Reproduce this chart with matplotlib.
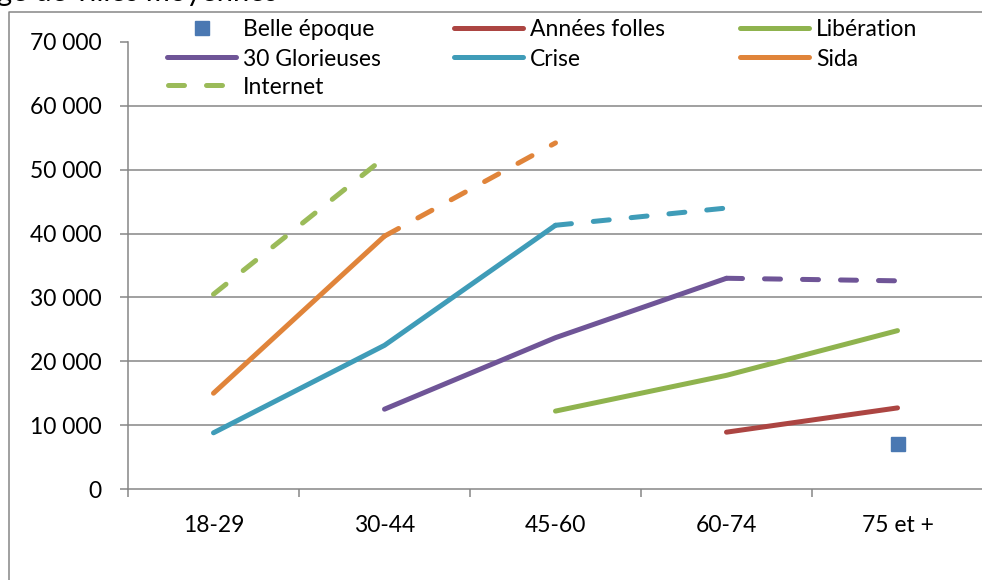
import numpy as np
import matplotlib
matplotlib.use("Agg")
import matplotlib.pyplot as plt
from matplotlib.lines import Line2D

plt.rcParams['font.family'] = ['Lato', 'DejaVu Sans']

# ---- data ----
categories = ['18-29', '30-44', '45-60', '60-74', '75 et +']
belle_epoque = [np.nan, np.nan, np.nan, np.nan, 7000]
annees_folles = [np.nan, np.nan, np.nan, 8900, 12700]
liberation = [np.nan, np.nan, 12200, 17800, 24800]
glorieuses = [np.nan, 12500, 23700, 33000, 32600]
crise = [8800, 22500, 41300, 44000, np.nan]
sida = [15000, 39600, 54200, np.nan, np.nan]
internet = [30500, 51900, np.nan, np.nan, np.nan]
y_ticks = [0, 10000, 20000, 30000, 40000, 50000, 60000, 70000]
y_tick_labels = ['0', '10 000', '20 000', '30 000', '40 000', '50 000', '60 000', '70 000']
title_text = 'ge de villes moyennes'

# index from which the series is drawn dashed (projection)
series = [
    ('Belle époque', belle_epoque, '#4A78B2', None),
    ('Années folles', annees_folles, '#AC4542', None),
    ('Libération', liberation, '#8FB34E', None),
    ('30 Glorieuses', glorieuses, '#6F5597', 3),
    ('Crise', crise, '#3F9CB8', 2),
    ('Sida', sida, '#E0843A', 1),
    ('Internet', internet, '#9BBB59', 0),
]

W, H = 982, 580
fig = plt.figure(figsize=(W / 100, H / 100), dpi=100)
fig.patch.set_facecolor('white')

def fx(px):
    return px / W

def fy(py):
    return 1 - py / H

ax = fig.add_axes([fx(128), fy(489), fx(983) - fx(128), fy(42) - fy(489)])
x = np.arange(len(categories))
LW = 3.6
DASH = (3.2, 4.4)
grid_col = '#868686'

for name, vals, col, k in series:
    v = np.array(vals, dtype=float)
    if name == 'Belle époque':
        ax.plot(x, v, linestyle='none', marker='s', markersize=10.5,
                color=col, markeredgecolor=col, zorder=3)
        continue
    if k is None:
        ax.plot(x, v, color=col, lw=LW, solid_capstyle='round',
                solid_joinstyle='round', zorder=3)
    else:
        if k > 0:
            ax.plot(x[:k + 1], v[:k + 1], color=col, lw=LW, solid_capstyle='round',
                    solid_joinstyle='round', zorder=3)
        ax.plot(x[k:], v[k:], color=col, lw=LW, dashes=DASH,
                dash_capstyle='round', zorder=3)

ax.set_xlim(-0.5, 4.5)
ax.set_ylim(0, 70000)
ax.set_yticks(y_ticks)
ax.set_yticklabels(y_tick_labels)
ax.set_xticks(x)
ax.set_xticklabels(categories)
ax.set_xticks(np.arange(-0.5, 5.0, 1.0), minor=True)

for yv in y_ticks[1:-1]:
    ax.axhline(yv, color=grid_col, lw=1.1, zorder=1)

for s in ['top', 'right']:
    ax.spines[s].set_visible(False)
for s in ['left', 'bottom']:
    ax.spines[s].set_color(grid_col)
    ax.spines[s].set_linewidth(1.1)

ax.tick_params(axis='y', which='major', length=5.8, width=1.1, color=grid_col,
               pad=13, labelsize=16.5, labelcolor='black')
ax.tick_params(axis='x', which='major', length=0, pad=19, labelsize=16.5,
               labelcolor='black')
ax.tick_params(axis='x', which='minor', length=5.8, width=1.1, color=grid_col)
ax.set_facecolor('none')

# outer chart frame
fig.add_artist(Line2D([fx(9), fx(9), 1.0], [0.0, fy(12), fy(12)],
                      transform=fig.transFigure, color=grid_col, lw=1.1))

# title (cut off at the top, as in the reference)
fig.text(fx(-3), fy(1), title_text, fontsize=21, ha='left', va='baseline',
         color='black')

# legend (drawn manually, row-major layout)
col_x = [165, 452, 738]
row_y = [28, 57, 85]
handle_len = 73
for i, (name, vals, col, k) in enumerate(series):
    r, c = divmod(i, 3)
    x0 = col_x[c]
    yy = row_y[r]
    if name == 'Belle époque':
        fig.add_artist(Line2D([fx(x0 + handle_len / 2)], [fy(yy)], transform=fig.transFigure,
                              linestyle='none', marker='s', markersize=10.5,
                              color=col, markeredgecolor=col))
    elif k == 0:
        fig.add_artist(Line2D([fx(x0 + 3), fx(x0 + handle_len)], [fy(yy), fy(yy)],
                              transform=fig.transFigure, color=col, lw=LW,
                              dashes=DASH, dash_capstyle='round'))
    else:
        fig.add_artist(Line2D([fx(x0 + 2), fx(x0 + handle_len - 2)], [fy(yy), fy(yy)],
                              transform=fig.transFigure, color=col, lw=LW,
                              solid_capstyle='round'))
    fig.text(fx(x0 + handle_len + 5), fy(yy), name, fontsize=16.5, ha='left',
             va='center_baseline', color='black')

fig.savefig('out.png', dpi=100)
